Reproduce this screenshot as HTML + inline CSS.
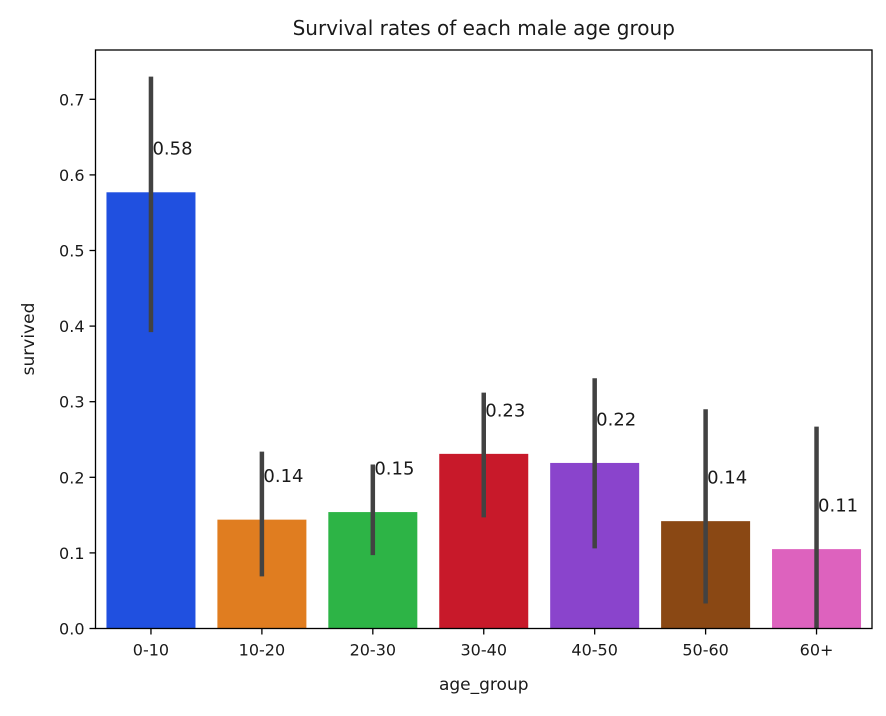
<!DOCTYPE html>
<html><head><meta charset="utf-8"><style>
body{margin:0;background:#fff}
text{font-family:"DejaVu Sans","Liberation Sans",sans-serif;fill:#1a1a1a}
</style></head><body>
<svg width="886" height="711">
<rect width="886" height="711" fill="#fff"/>
<g id="g"></g>
</svg>
<script>
const categories=["0-10","10-20","20-30","30-40","40-50","50-60","60+"];
const values=[0.577,0.144,0.154,0.231,0.219,0.142,0.105];
const ciLow=[0.392,0.069,0.097,0.147,0.106,0.033,0.0];
const ciHigh=[0.730,0.234,0.217,0.312,0.331,0.290,0.267];
const labels=["0.58","0.14","0.15","0.23","0.22","0.14","0.11"];
const yTicks=[0,0.1,0.2,0.3,0.4,0.5,0.6,0.7];
const colors=["#2050e0","#e07d20","#2db446","#c8192a","#8a44cc","#8a4814","#dd62be"];
const L=95.5,R=872,T=50,B=628.5;
const step=(R-L)/categories.length;
const xc=i=>L+step*(i+0.5);
const y=v=>B-v*756;
const g=document.getElementById('g');
const NS="http://www.w3.org/2000/svg";
function mk(t,a,txt){const e=document.createElementNS(NS,t);for(const k in a)e.setAttribute(k,a[k]);if(txt!==undefined)e.textContent=txt;g.appendChild(e);return e;}
categories.forEach((c,i)=>{
 const b=mk('rect',{x:xc(i)-44.5,y:y(values[i]),width:89,height:B-y(values[i]),fill:colors[i]});
 
 
 const e=mk('line',{x1:xc(i),x2:xc(i),y1:y(ciLow[i]),y2:y(ciHigh[i]),stroke:'#424242','stroke-width':4.5});
 
 
 const t=mk('text',{x:xc(i)+1.5,y:y(values[i]+0.055)+4,'font-size':18},labels[i]);
 
 
 mk('line',{x1:xc(i),x2:xc(i),y1:B,y2:B+6,stroke:'#000','stroke-width':1.3});
 const xl=mk('text',{x:xc(i),y:B+27,'font-size':16,'text-anchor':'middle'},c);
 
 
});
yTicks.forEach(v=>{
 mk('line',{x1:L-6,x2:L,y1:y(v),y2:y(v),stroke:'#000','stroke-width':1.3});
 const t=mk('text',{x:L-11,y:y(v)+6,'font-size':16,'text-anchor':'end'},v.toFixed(1));
 
 
});
const f=mk('rect',{x:L,y:T,width:R-L,height:B-T,fill:'none',stroke:'#000','stroke-width':1.3});


const ti=mk('text',{x:(L+R)/2,y:35,'font-size':20,'text-anchor':'middle'},'Survival rates of each male age group');


const xt=mk('text',{x:(L+R)/2,y:690,'font-size':17,'text-anchor':'middle'},'age_group');


const yt=mk('text',{x:0,y:0,'font-size':17,'text-anchor':'middle',transform:'translate(34,339) rotate(-90)'},'survived');


</script>
</body></html>
